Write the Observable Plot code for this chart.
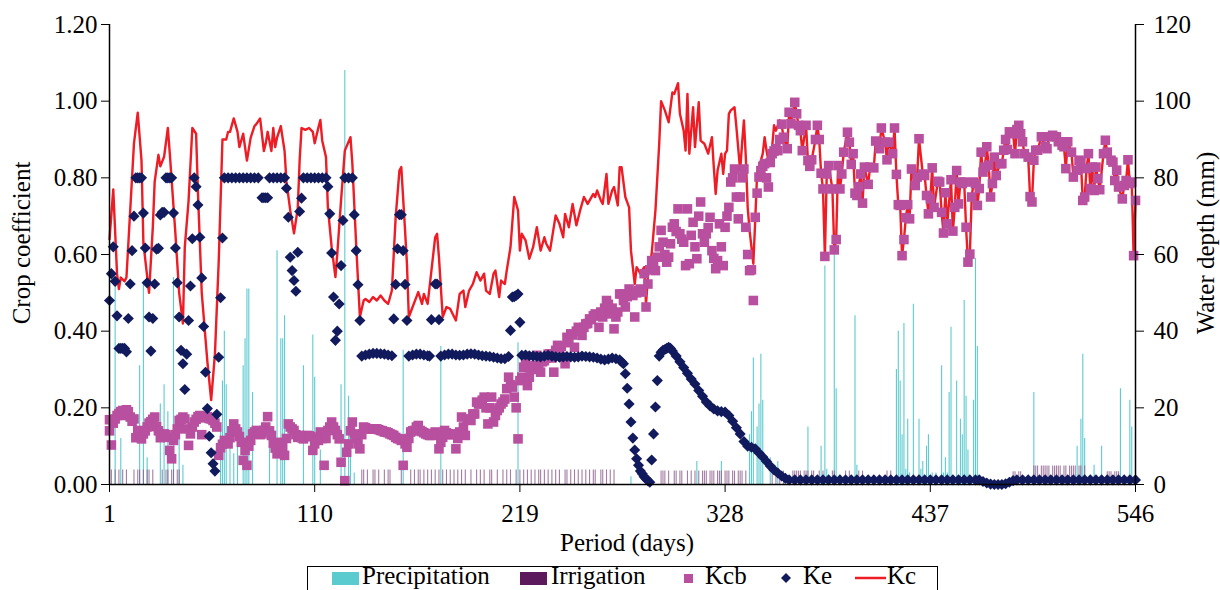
<!DOCTYPE html>
<html><head><meta charset="utf-8">
<script src="https://cdn.jsdelivr.net/npm/d3@7"></script>
<script src="https://cdn.jsdelivr.net/npm/@observablehq/plot@0.6"></script>
<style>
html,body{margin:0;padding:0;background:#fff;}
#wrap{width:1220px;height:590px;overflow:hidden;position:relative;}
svg text{font-family:"Liberation Serif","Times New Roman",serif;}
</style></head>
<body><div id="wrap"></div>
<script>
// ---- data ----
const xTicks = [1, 110, 219, 328, 437, 546];
const leftTicks = [0, 0.2, 0.4, 0.6, 0.8, 1.0, 1.2];
const rightTicks = [0, 20, 40, 60, 80, 100, 120];

// Precipitation (day, mm)
const precipitation = [[4,53],[7,12],[17,31],[19,53],[21,7],[28,21],[30,26],[32,19],[35,54],[38,16],[40,5],[60,15],[61,27],[62,40],[63,26],[65,15],[67,8],[69,10],[72,31],[73,38],[74,51],[75,51],[77,24],[86,10],[90,61],[92,38],[93,38],[94,44],[104,31],[109,39],[110,28],[113,9],[124,26],[126,108],[128,23],[129,14],[131,3],[157,35],[177,36],[218,37],[278,2],[313,6],[326,6],[341,13],[342,19],[343,33],[345,15],[346,21],[347,34],[348,22],[352,7],[356,6],[372,15],[379,10],[381,57],[382,4],[386,61],[387,25],[397,44],[398,5],[419,30],[420,40],[421,27],[422,13],[423,42],[424,4],[425,17],[426,3],[428,47],[431,17],[432,4],[433,6],[435,10],[436,13],[438,3],[440,3],[443,31],[444,3],[445,7],[446,3],[447,24],[448,41],[451,27],[453,17],[454,13],[455,48],[456,23],[457,9],[460,22],[461,59],[462,36],[492,24],[515,10],[517,17],[518,34],[519,12],[524,5],[528,10],[538,25],[543,22],[544,15]];

// Irrigation (day, mm)
const irrigation = [[2,3.8],[4,3.8],[6,3.8],[8,3.8],[10,3.8],[14,3.8],[16,3.8],[17,3.8],[19,3.8],[21,3.8],[22,3.8],[24,3.8],[29,3.8],[31,3.8],[32,3.8],[34,3.8],[35,3.8],[37,3.8],[38,3.8],
[135,3.8],[136,3.8],[138,3.8],[141,3.8],[142,3.8],[144,3.8],[147,3.8],[149,3.8],[150,3.8],[156,3.8],[161,3.8],[163,3.8],[165,3.8],[166,3.8],[168,3.8],[170,3.8],[172,3.8],[174,3.8],[176,3.8],[178,3.8],[180,3.8],[182,3.8],[184,3.8],[186,3.8],[188,3.8],[190,3.8],[193,3.8],[196,3.8],[198,3.8],[200,3.8],[203,3.8],[204,3.8],[207,3.8],[210,3.8],[212,3.8],[214,3.8],[217,3.8],[219,3.8],[221,3.8],[223,3.8],[225,3.8],[227,3.8],[229,3.8],[230,3.8],[232,3.8],[234,3.8],[236,3.8],[238,3.8],[240,3.8],[243,3.8],[244,3.8],[246,3.8],[248,3.8],[250,3.8],[252,3.8],[254,3.8],[256,3.8],[258,3.8],[259,3.8],[262,3.8],[263,3.8],[265,3.8],[267,3.8],[269,3.8],
[294,3.5],[295,3.5],[296,3.5],[298,3.5],[301,3.5],[302,3.5],[304,3.5],[305,3.5],[308,3.5],[310,3.5],[312,3.5],[314,3.5],[316,3.5],[317,3.5],[318,3.5],[320,3.5],[321,3.5],[322,3.5],[324,3.5],[325,3.5],[326,3.5],[328,3.5],[329,3.5],[330,3.5],[332,3.5],[333,3.5],[335,3.5],[336,3.5],[337,3.5],[339,3.5],
[353,3.5],[355,3.5],[357,3.5],[359,3.5],[364,3.5],[365,3.5],[366,3.5],[367,3.5],[368,3.5],[370,3.5],[371,3.5],[372,3.5],[374,3.5],[375,3.5],[378,3.5],[380,3.5],[385,3.5],[386,3.5],[392,3.5],[394,3.5],[399,3.5],[401,3.5],[414,3.5],[416,3.5],
[481,3.3],[482,3.3],[484,3.3],[485,3.3],[492,4.8],[493,4.8],[494,4.8],[496,4.8],[497,4.8],[498,4.8],[499,4.8],[500,4.8],[502,4.8],[503,4.8],[504,4.8],[505,4.8],[506,4.8],[508,4.8],[509,4.8],[511,4.8],[512,4.8],[513,4.8],[514,4.8],[516,4.8],[517,4.8],[519,4.8],[531,3.3],[532,3.3],[533,3.3],[535,3.3],[536,3.3],[537,3.3]];

// Kcb (day, value) up to day 357
const kcbEarly = [[1,0.169],[1,0.14],[2,0.103],[3,0.16],[4,0.171],[5,0.18],[6,0.185],[7,0.19],[8,0.193],[9,0.18],[10,0.195],[11,0.19],[12,0.176],[13,0.165],[14,0.171],[15,0.122],[16,0.14],[17,0.141],[18,0.119],[19,0.132],[20,0.14],[21,0.15],[22,0.16],[23,0.164],[24,0.17],[25,0.176],[26,0.151],[27,0.14],[28,0.122],[29,0.128],[30,0.132],[31,0.13],[32,0.123],[33,0.089],[34,0.067],[35,0.115],[36,0.13],[37,0.145],[38,0.167],[39,0.17],[40,0.176],[41,0.171],[42,0.145],[43,0.102],[44,0.132],[45,0.15],[46,0.163],[47,0.17],[48,0.177],[49,0.18],[50,0.13],[51,0.174],[52,0.175],[53,0.177],[54,0.172],[55,0.171],[56,0.167],[57,0.16],[58,0.15],[59,0.076],[60,0.096],[61,0.105],[62,0.115],[63,0.11],[64,0.106],[65,0.122],[66,0.14],[67,0.158],[68,0.145],[69,0.137],[70,0.125],[71,0.11],[72,0.063],[73,0.089],[74,0.05],[75,0.1],[76,0.115],[77,0.132],[78,0.137],[79,0.141],[80,0.134],[81,0.13],[82,0.132],[83,0.141],[84,0.15],[85,0.177],[86,0.14],[87,0.128],[88,0.108],[89,0.095],[90,0.08],[91,0.11],[92,0.105],[93,0.097],[94,0.076],[95,0.12],[96,0.158],[97,0.15],[98,0.145],[99,0.141],[100,0.13],[101,0.123],[102,0.128],[103,0.122],[104,0.119],[105,0.125],[106,0.128],[107,0.127],[108,0.125],[109,0.089],[110,0.106],[111,0.12],[112,0.115],[113,0.137],[114,0.12],[115,0.05],[116,0.12],[117,0.141],[118,0.15],[119,0.163],[120,0.15],[121,0.141],[122,0.13],[123,0.119],[124,0.058],[126,0.01],[127,0.084],[128,0.106],[129,0.14],[130,0.163],[131,0.132],[132,0.12],[133,0.106],[134,0.093],[135,0.13],[136,0.15],[137,0.148],[138,0.145],[139,0.145],[140,0.145],[141,0.145],[142,0.145],[143,0.145],[144,0.143],[145,0.141],[146,0.14],[147,0.137],[148,0.137],[149,0.135],[150,0.132],[151,0.13],[152,0.128],[153,0.123],[154,0.12],[155,0.119],[156,0.115],[157,0.05],[158,0.106],[159,0.097],[160,0.12],[161,0.137],[162,0.14],[163,0.141],[164,0.15],[165,0.154],[166,0.141],[167,0.138],[168,0.135],[169,0.132],[170,0.13],[171,0.128],[172,0.128],[173,0.133],[174,0.137],[175,0.13],[176,0.093],[177,0.11],[178,0.123],[179,0.141],[180,0.135],[181,0.132],[182,0.13],[183,0.13],[184,0.132],[185,0.093],[186,0.12],[187,0.137],[188,0.176],[189,0.15],[190,0.128],[191,0.171],[192,0.17],[193,0.167],[194,0.184],[195,0.184],[196,0.215],[197,0.21],[198,0.21],[199,0.22],[200,0.228],[201,0.2],[202,0.158],[203,0.2],[204,0.228],[205,0.163],[206,0.18],[207,0.193],[208,0.2],[209,0.21],[210,0.215],[211,0.223],[212,0.25],[213,0.28],[214,0.26],[215,0.254],[216,0.228],[217,0.2],[218,0.119],[219,0.271],[220,0.28],[221,0.306],[222,0.323],[223,0.258],[224,0.28],[225,0.3],[226,0.306],[227,0.31],[228,0.337],[229,0.31],[230,0.293],[231,0.32],[232,0.323],[233,0.33],[234,0.34],[235,0.341],[236,0.33],[237,0.293],[238,0.35],[239,0.363],[240,0.355],[241,0.36],[242,0.332],[243,0.315],[244,0.384],[245,0.37],[246,0.393],[247,0.39],[248,0.358],[249,0.4],[250,0.41],[251,0.4],[252,0.389],[253,0.41],[254,0.419],[255,0.42],[256,0.432],[257,0.43],[258,0.44],[259,0.445],[260,0.44],[261,0.41],[262,0.45],[263,0.437],[264,0.46],[265,0.48],[266,0.47],[267,0.445],[268,0.46],[269,0.406],[270,0.437],[271,0.45],[272,0.497],[273,0.497],[274,0.48],[275,0.463],[276,0.49],[277,0.51],[278,0.5],[279,0.493],[280,0.437],[281,0.5],[282,0.506],[283,0.51],[284,0.502],[285,0.55],[286,0.463],[287,0.523],[288,0.56],[289,0.584],[290,0.57],[291,0.558],[292,0.593],[293,0.62],[294,0.663],[295,0.632],[296,0.6],[297,0.58],[298,0.593],[299,0.628],[300,0.671],[301,0.68],[302,0.66],[303,0.719],[304,0.654],[305,0.64],[306,0.632],[307,0.571],[308,0.719],[309,0.576],[310,0.65],[311,0.684],[312,0.62],[313,0.589],[314,0.7],[315,0.737],[316,0.654],[317,0.632],[318,0.654],[319,0.67],[320,0.697],[321,0.61],[322,0.59],[323,0.563],[324,0.584],[325,0.68],[326,0.62],[327,0.571],[328,0.671],[329,0.7],[330,0.723],[331,0.789],[332,0.8],[333,0.823],[334,0.75],[335,0.693],[336,0.75],[337,0.8],[338,0.823],[339,0.671],[340,0.6],[341,0.558],[342,0.56],[343,0.48],[344,0.697],[345,0.76],[346,0.802],[347,0.819],[348,0.83],[349,0.837],[350,0.8],[351,0.776],[352,0.84],[353,0.863],[354,0.87],[355,0.876],[356,0.871],[357,0.9]];

// From day 358 on, Ke is ~0.01 and the Kc line runs through the Kcb squares: one shared path
const lateKcbKc = [[358,0.94],[359,0.906],[361,0.876],[362,0.971],[363,0.941],[365,0.997],[366,0.967],[367,0.937],[368,0.923],[369,0.871],[371,0.937],[372,0.845],[373,0.83],[374,0.847],[376,0.9],[377,0.937],[378,0.9],[379,0.812],[380,0.771],[381,0.595],[382,0.81],[383,0.832],[385,0.771],[386,0.612],[387,0.639],[388,0.832],[389,0.771],[390,0.81],[391,0.867],[393,0.919],[394,0.893],[395,0.835],[396,0.863],[397,0.76],[398,0.754],[399,0.777],[400,0.81],[401,0.734],[402,0.828],[404,0.783],[405,0.828],[407,0.826],[408,0.896],[410,0.876],[411,0.93],[413,0.893],[414,0.847],[415,0.893],[417,0.863],[418,0.93],[419,0.809],[420,0.73],[421,0.728],[422,0.597],[423,0.639],[424,0.696],[425,0.73],[426,0.693],[427,0.823],[429,0.78],[430,0.802],[431,0.902],[433,0.81],[434,0.806],[435,0.754],[436,0.706],[437,0.745],[438,0.826],[439,0.723],[441,0.791],[442,0.789],[443,0.71],[444,0.656],[445,0.761],[446,0.68],[448,0.795],[449,0.661],[450,0.723],[451,0.819],[452,0.732],[453,0.789],[454,0.785],[455,0.789],[456,0.671],[457,0.58],[458,0.601],[459,0.75],[460,0.789],[461,0.785],[462,0.728],[463,0.772],[464,0.867],[465,0.815],[466,0.828],[467,0.881],[468,0.833],[469,0.75],[470,0.785],[471,0.854],[472,0.806],[474,0.837],[475,0.837],[476,0.872],[477,0.9],[478,0.874],[479,0.92],[481,0.915],[482,0.863],[483,0.926],[484,0.937],[485,0.915],[486,0.894],[487,0.863],[489,0.854],[490,0.751],[491,0.737],[492,0.846],[493,0.872],[494,0.872],[496,0.907],[498,0.881],[499,0.876],[500,0.907],[502,0.911],[504,0.907],[505,0.894],[507,0.885],[508,0.881],[509,0.824],[510,0.894],[512,0.867],[513,0.802],[515,0.82],[516,0.846],[517,0.841],[518,0.741],[519,0.75],[520,0.824],[521,0.863],[522,0.772],[523,0.828],[524,0.767],[525,0.828],[526,0.798],[527,0.769],[529,0.863],[530,0.898],[531,0.867],[533,0.846],[534,0.841],[535,0.793],[536,0.82],[537,0.776],[539,0.745],[540,0.78],[541,0.793],[542,0.847],[543,0.785],[544,0.789],[545,0.597],[546,0.741]];

// Kc (day, value) up to day 357
const kcEarly = [[1,0.64],[3,0.77],[5,0.55],[6,0.51],[7,0.54],[9,0.53],[10,0.54],[12,0.715],[14,0.89],[16,0.97],[18,0.845],[19,0.63],[22,0.5],[24,0.67],[25,0.79],[27,0.86],[28,0.83],[30,0.855],[32,0.93],[33,0.865],[36,0.655],[38,0.5],[40,0.42],[41,0.62],[43,0.74],[45,0.93],[47,0.915],[48,0.76],[50,0.5],[53,0.32],[55,0.22],[57,0.34],[59,0.58],[61,0.9],[63,0.9],[64,0.92],[65,0.92],[67,0.955],[69,0.92],[70,0.88],[72,0.915],[74,0.845],[76,0.905],[78,0.935],[79,0.94],[81,0.955],[83,0.87],[84,0.89],[85,0.92],[87,0.87],[88,0.93],[89,0.88],[90,0.905],[92,0.935],[94,0.87],[95,0.79],[97,0.715],[99,0.655],[101,0.72],[102,0.845],[103,0.93],[105,0.925],[107,0.93],[109,0.92],[110,0.89],[112,0.932],[113,0.951],[114,0.897],[116,0.854],[117,0.723],[119,0.619],[121,0.541],[122,0.602],[124,0.741],[126,0.871],[129,0.906],[130,0.837],[132,0.628],[134,0.437],[136,0.48],[137,0.484],[139,0.476],[141,0.489],[143,0.48],[145,0.493],[147,0.48],[149,0.471],[151,0.506],[153,0.697],[155,0.819],[156,0.828],[158,0.663],[159,0.576],[160,0.437],[162,0.463],[164,0.489],[165,0.502],[167,0.471],[168,0.497],[170,0.471],[172,0.558],[174,0.645],[175,0.654],[176,0.593],[178,0.437],[180,0.463],[182,0.458],[185,0.428],[187,0.497],[189,0.506],[190,0.463],[192,0.506],[194,0.523],[196,0.554],[198,0.532],[200,0.55],[201,0.506],[203,0.497],[205,0.55],[206,0.558],[208,0.489],[209,0.532],[211,0.523],[212,0.558],[214,0.619],[216,0.75],[218,0.715],[219,0.61],[220,0.654],[222,0.637],[224,0.589],[226,0.619],[228,0.671],[230,0.61],[232,0.645],[233,0.628],[235,0.61],[238,0.702],[240,0.68],[242,0.645],[243,0.706],[245,0.671],[247,0.732],[249,0.676],[251,0.715],[253,0.75],[255,0.732],[258,0.758],[259,0.75],[260,0.767],[262,0.741],[263,0.732],[265,0.81],[266,0.732],[268,0.767],[269,0.776],[271,0.728],[272,0.828],[273,0.828],[275,0.75],[277,0.723],[278,0.61],[280,0.523],[281,0.567],[283,0.55],[285,0.567],[286,0.471],[287,0.541],[289,0.602],[291,0.715],[293,0.889],[294,1.0],[296,0.976],[298,0.945],[300,1.023],[301,1.019],[303,1.047],[304,0.967],[306,0.923],[307,0.871],[308,1.019],[309,0.863],[311,0.984],[312,0.88],[314,0.997],[315,0.897],[317,0.889],[319,0.863],[321,0.906],[322,0.828],[323,0.758],[324,0.819],[326,0.863],[327,0.81],[328,0.863],[329,0.871],[330,0.967],[331,0.976],[333,0.984],[334,0.932],[336,0.819],[337,0.889],[338,0.95],[339,0.854],[340,0.723],[341,0.663],[343,0.576],[344,0.689],[345,0.81],[347,0.845],[348,0.863],[349,0.906],[350,0.871],[351,0.845],[353,0.88],[354,0.937],[355,0.923],[357,0.95]];

// Ke (day, value)
const ke = [[1,0.48],[2,0.55],[3,0.62],[4,0.53],[5,0.44],[6,0.355],[7,0.355],[8,0.355],[9,0.355],[10,0.346],[11,0.433],[12,0.523],[13,0.61],[14,0.7],[15,0.8],[16,0.8],[17,0.8],[18,0.8],[19,0.708],[20,0.617],[21,0.526],[22,0.437],[23,0.348],[24,0.433],[25,0.523],[26,0.614],[27,0.616],[28,0.703],[29,0.71],[30,0.71],[31,0.8],[32,0.8],[33,0.8],[34,0.8],[35,0.708],[36,0.617],[37,0.526],[38,0.437],[39,0.35],[40,0.315],[41,0.248],[42,0.34],[43,0.428],[44,0.518],[45,0.641],[46,0.8],[47,0.777],[48,0.729],[49,0.645],[50,0.539],[51,0.412],[52,0.293],[53,0.198],[54,0.126],[55,0.083],[56,0.054],[57,0.035],[58,0.183],[59,0.332],[60,0.487],[61,0.643],
[62,0.8],[64,0.8],[66,0.8],[68,0.8],[70,0.8],[72,0.8],[74,0.8],[76,0.8],[78,0.8],[80,0.8],[82,0.748],[83,0.748],[84,0.748],[85,0.748],[86,0.8],[88,0.8],[90,0.8],[92,0.8],[94,0.8],[95,0.773],[96,0.697],[97,0.593],[98,0.558],[99,0.532],[100,0.504],[101,0.606],[102,0.712],[103,0.747],[104,0.8],[106,0.8],[108,0.8],[110,0.8],[112,0.8],[114,0.8],[116,0.8],[117,0.777],[118,0.706],[119,0.604],[120,0.489],[121,0.376],[122,0.4],[123,0.471],[124,0.571],[125,0.689],[126,0.8],[128,0.8],[130,0.8],[131,0.704],[132,0.61],[133,0.521],[134,0.428],
[135,0.335],[137,0.338],[139,0.34],[141,0.342],[143,0.342],[145,0.341],[147,0.34],[149,0.338],[151,0.336],[152,0.432],[153,0.522],[154,0.615],[155,0.704],[156,0.704],[157,0.61],[158,0.522],[159,0.428],[160,0.335],[162,0.338],[164,0.34],[166,0.34],[168,0.338],[170,0.336],[171,0.335],[172,0.43],[174,0.523],[175,0.523],[176,0.43],[177,0.335],[179,0.338],[181,0.34],[183,0.34],[185,0.338],[187,0.337],[189,0.338],[191,0.34],[193,0.341],[195,0.34],[197,0.338],[199,0.336],[201,0.335],[203,0.334],[205,0.332],[207,0.33],[209,0.328],[211,0.328],[213,0.334],[214,0.402],[215,0.489],[216,0.49],[217,0.493],[218,0.497],[219,0.423],
[220,0.337],[222,0.338],[224,0.336],[226,0.335],[228,0.334],[230,0.333],[232,0.335],[234,0.337],[236,0.335],[238,0.333],[240,0.332],[242,0.333],[244,0.334],[246,0.333],[248,0.332],[250,0.333],[252,0.335],[254,0.334],[256,0.333],[258,0.332],[260,0.33],[262,0.327],[264,0.325],[266,0.327],[268,0.33],[270,0.328],[272,0.325],[273,0.32],
[274,0.315],[275,0.289],[276,0.251],[277,0.21],[278,0.163],[279,0.121],[280,0.09],[281,0.067],[282,0.05],[283,0.035],[284,0.028],[285,0.02],[286,0.015],[287,0.01],[288,0.006],[289,0.064],[290,0.132],[291,0.202],[292,0.271],[293,0.335],[294,0.345],[295,0.35],[296,0.352],[297,0.355],[298,0.358],[299,0.355],[300,0.348],[302,0.335],[304,0.32],[306,0.305],[308,0.29],[310,0.275],[312,0.262],[314,0.245],[316,0.23],[318,0.215],[320,0.205],[322,0.197],[324,0.192],[326,0.19],[328,0.189],[330,0.18],[332,0.165],[334,0.148],[336,0.132],[338,0.112],[340,0.1],[342,0.097],[344,0.093],[346,0.082],[348,0.072],[350,0.06],[352,0.048],[354,0.038],[356,0.03],[358,0.022],[360,0.016],[362,0.012],
[365,0.012],[368,0.012],[371,0.012],[374,0.012],[377,0.012],[380,0.012],[383,0.012],[386,0.012],[389,0.012],[392,0.012],[395,0.012],[398,0.012],[401,0.012],[404,0.012],[407,0.012],[410,0.012],[413,0.012],[416,0.012],[419,0.012],[422,0.012],[425,0.012],[428,0.012],[431,0.012],[434,0.012],[437,0.012],[440,0.012],[443,0.012],[446,0.012],[449,0.012],[452,0.012],[455,0.012],[458,0.012],[461,0.012],[463,0.012],[465,0.008],[467,0.004],[469,0.001],[471,0],[473,0],[475,0],[477,0.002],[479,0.006],[481,0.01],[483,0.012],[486,0.012],[489,0.012],[492,0.012],[495,0.012],[498,0.012],[501,0.012],[504,0.012],[507,0.012],[510,0.012],[513,0.012],[516,0.012],[519,0.012],[522,0.012],[525,0.012],[528,0.012],[531,0.012],[534,0.012],[537,0.012],[540,0.012],[543,0.012],[546,0.012]];

// ---- chart ----
const C = {precip:"#5ccbd0", irrig:"#5c1a5c", irrigBar:"#8c5c8c", kcb:"#b84f9f", ke:"#111a5c", kc:"#ee1c25"};
const toRows = arr => arr.map(([day, v]) => ({day, v}));
const kcbRows = toRows(kcbEarly.concat(lateKcbKc));
const kcRows = toRows(kcEarly.concat(lateKcbKc));
const keRows = toRows(ke);
const precipRows = toRows(precipitation);
const irrigRows = toRows(irrigation);

const chart = Plot.plot({
  width: 1220, height: 560,
  marginLeft: 109, marginRight: 85, marginTop: 24, marginBottom: 76,
  style: {fontFamily: "'Liberation Serif','Times New Roman',serif", fontSize: "25px", background: "#fff", color: "#000", overflow: "visible"},
  x: {domain: [1, 546]},
  y: {domain: [0, 1.2]},
  marks: [
    Plot.ruleX(precipRows, {x: "day", y1: 0, y2: d => d.v / 100, stroke: C.precip, strokeWidth: 1.1}),
    Plot.ruleX(irrigRows, {x: "day", y1: 0, y2: d => d.v / 100, stroke: C.irrigBar, strokeWidth: 1.1, strokeOpacity: 0.8}),
    Plot.line(kcRows, {x: "day", y: "v", stroke: C.kc, strokeWidth: 2.4}),
    Plot.dot(kcbRows, {x: "day", y: "v", symbol: "square", r: 5.4, fill: C.kcb, stroke: "none"}),
    Plot.dot(keRows, {x: "day", y: "v", symbol: "diamond2", r: 5, fill: C.ke, stroke: "none"}),
    Plot.ruleX([1, 546], {stroke: "#000", strokeWidth: 1.5}),
    Plot.ruleY([0], {stroke: "#000", strokeWidth: 1.5}),
    Plot.axisX({ticks: xTicks, tickSize: 8, tickPadding: 12, tickFormat: d => String(d), label: null}),
    Plot.axisY({ticks: leftTicks, tickSize: 8, tickPadding: 4, tickFormat: d => d.toFixed(2), label: null}),
    Plot.axisY({anchor: "right", ticks: rightTicks.map(v => v / 100), tickSize: 8, tickPadding: 10, tickFormat: d => String(Math.round(d * 100)), label: null})
  ]
});

const svg = d3.select(chart);
const font = "'Liberation Serif','Times New Roman',serif";
svg.append("text").attr("transform", "translate(21,243) rotate(-90)")
  .attr("text-anchor", "middle").attr("dominant-baseline", "central")
  .style("font-family", font).style("font-size", "25px").text("Crop coefficient");
svg.append("text").attr("transform", "translate(1205,243) rotate(-90)")
  .attr("text-anchor", "middle").attr("dominant-baseline", "central")
  .style("font-family", font).style("font-size", "25px").text("Water depth (mm)");
svg.append("text").attr("x", 627).attr("y", 551)
  .attr("text-anchor", "middle")
  .style("font-family", font).style("font-size", "25px").text("Period (days)");

const wrap = document.getElementById("wrap");
wrap.appendChild(chart);

// ---- legend (below the chart) ----
const legendItems = [
  {label: "Precipitation", kind: "rect", color: C.precip},
  {label: "Irrigation", kind: "rect", color: C.irrig},
  {label: "Kcb", kind: "square", color: C.kcb},
  {label: "Ke", kind: "diamond", color: C.ke},
  {label: "Kc", kind: "line", color: C.kc}
];
const lg = d3.select(wrap).append("svg").attr("width", 1220).attr("height", 30)
  .style("display", "block");
lg.append("rect").attr("x", 307.5).attr("y", 6.5).attr("width", 630).attr("height", 40)
  .attr("fill", "none").attr("stroke", "#000").attr("stroke-width", 1);
const keyX = [332, 520, 684, 782, 855];
const textX = [362, 551, 705, 803, 887];
legendItems.forEach((it, i) => {
  const cy = 18;
  if (it.kind === "rect") lg.append("rect").attr("x", keyX[i]).attr("y", 12).attr("width", 27).attr("height", 13).attr("fill", it.color);
  if (it.kind === "square") lg.append("rect").attr("x", keyX[i]).attr("y", cy - 4).attr("width", 9).attr("height", 9).attr("fill", it.color);
  if (it.kind === "diamond") lg.append("path").attr("d", `M${keyX[i]+4},${cy-5}L${keyX[i]+9},${cy}L${keyX[i]+4},${cy+5}L${keyX[i]-1},${cy}Z`).attr("fill", it.color);
  if (it.kind === "line") lg.append("line").attr("x1", keyX[i]).attr("x2", keyX[i] + 31).attr("y1", cy).attr("y2", cy).attr("stroke", it.color).attr("stroke-width", 2.5);
  lg.append("text").attr("x", textX[i]).attr("y", 24).style("font-family", font).style("font-size", "25px").attr("fill", "#000").text(it.label);
});
</script></body></html>
